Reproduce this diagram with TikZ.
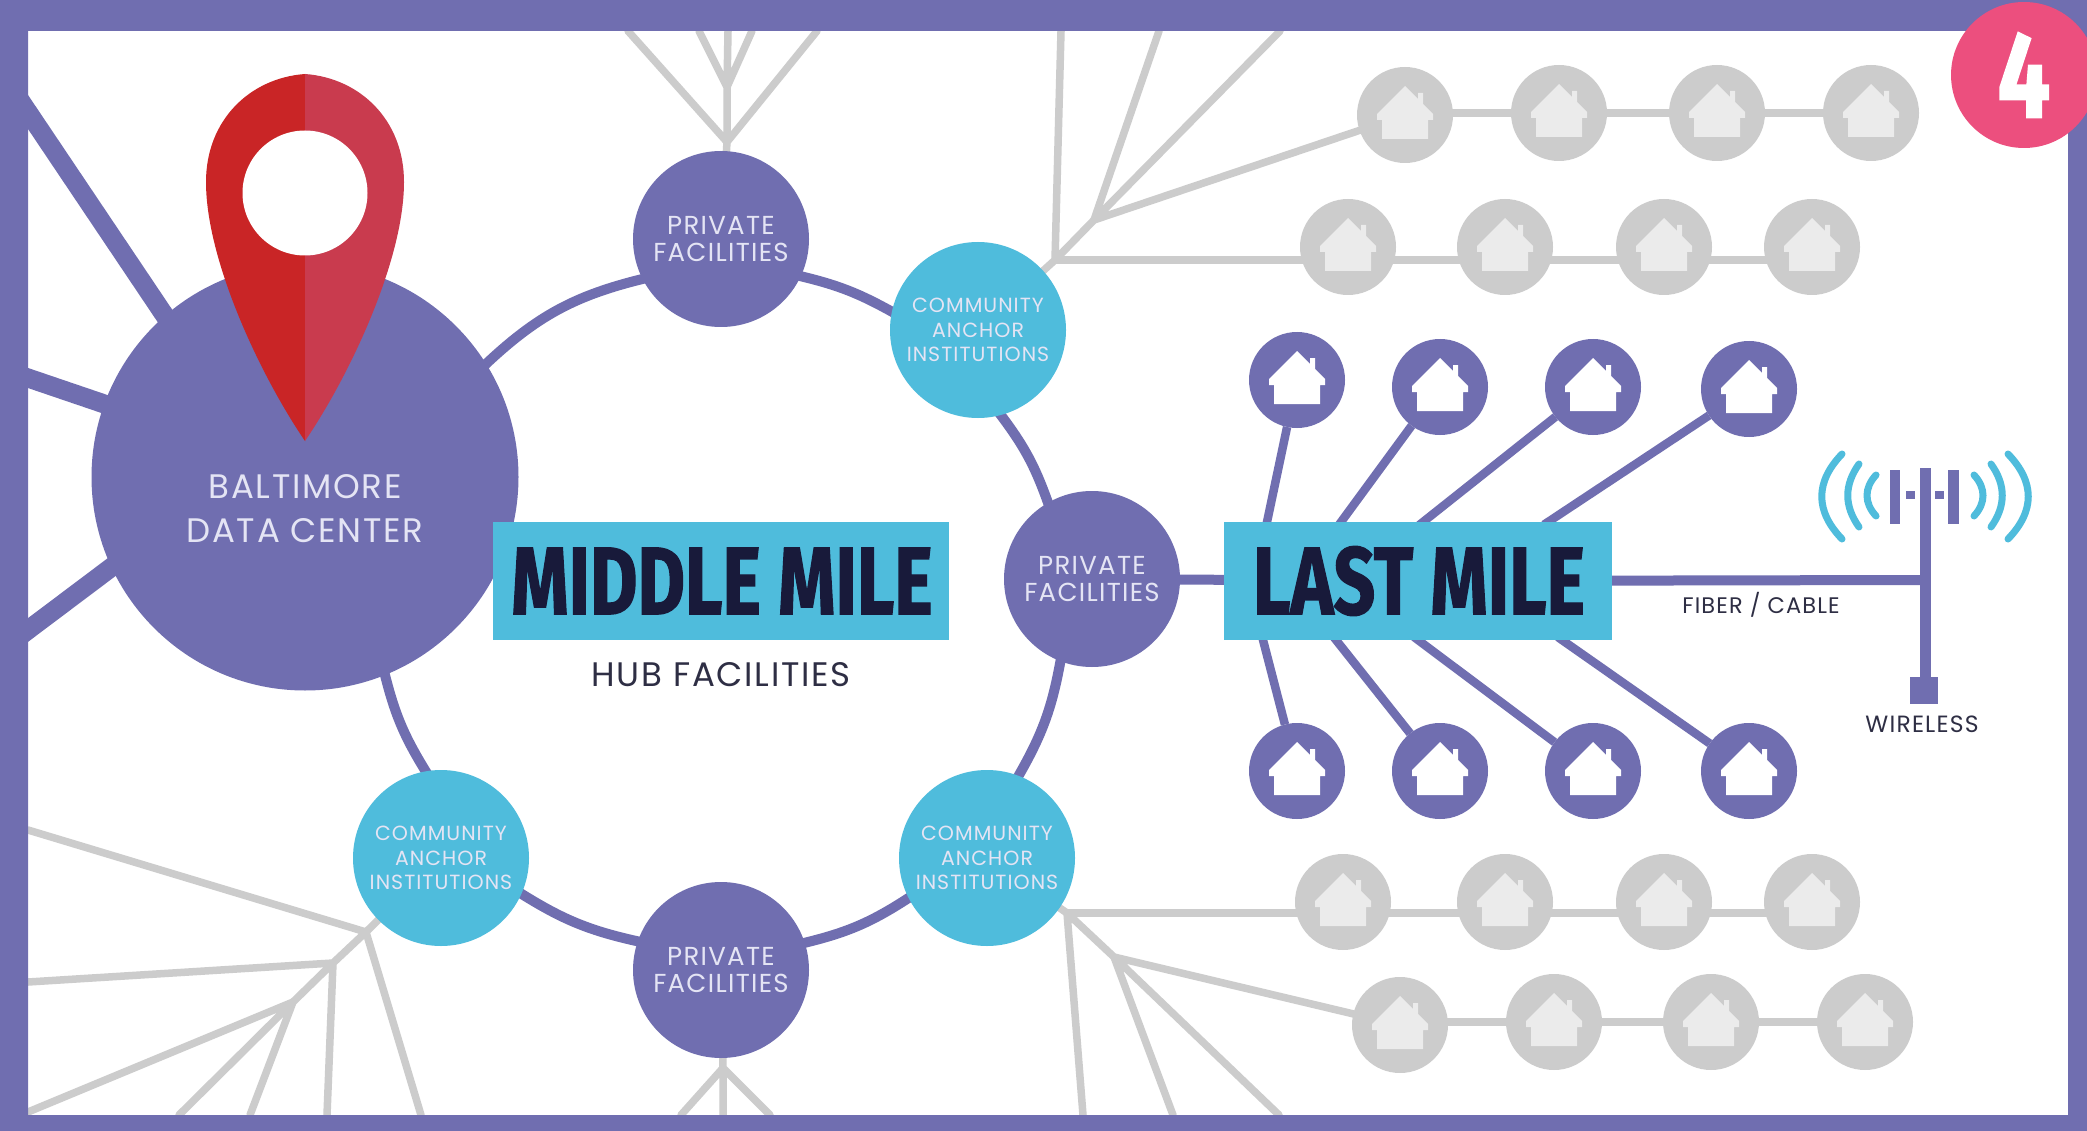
\documentclass[tikz,border=0pt]{standalone}
\usepackage{fontspec}
\setmainfont{Poppins}[LetterSpace=5]
\newfontfamily\condfont[FakeStretch=0.76,BoldFeatures={FakeBold=1.2}]{Fira Sans}
\usetikzlibrary{backgrounds,calc}
\definecolor{pur}{HTML}{706EB0}
\definecolor{cya}{HTML}{4FBCDC}
\definecolor{gry}{HTML}{CCCCCC}
\definecolor{gryhouse}{HTML}{EBEBEB}
\definecolor{pink}{HTML}{EC4F7E}
\definecolor{reddark}{HTML}{C92526}
\definecolor{redlight}{HTML}{C93B4E}
\definecolor{ink}{HTML}{181A3A}
\definecolor{txtdark}{HTML}{2E2E44}
\definecolor{lav}{HTML}{E4E4F4}
\tikzset{
  x=1pt,y=-1pt,
  every node/.style={inner sep=0pt,outer sep=0pt,align=center},
  bigdc/.style={circle,fill=pur,minimum size=427pt},
  dclabel/.style={text=lav,font=\fontsize{34}{44}\selectfont},
  privatenode/.style={circle,fill=pur,minimum size=176pt,text=lav,font=\fontsize{26}{27}\selectfont},
  communitynode/.style={circle,fill=cya,minimum size=176pt,text=lav,font=\fontsize{20.5}{24.5}\selectfont},
  titlebox/.style={fill=cya,minimum height=118pt},
  titletext/.style={text=ink,font=\condfont\bfseries\fontsize{96}{96}\selectfont},
  plainlabel/.style={text=txtdark,font=\fontsize{#1}{#1}\selectfont},
  livehouse/.style={circle,fill=pur,minimum size=96pt},
  ghosthouse/.style={circle,fill=gry,minimum size=96pt},
  ringline/.style={draw=pur,line width=10pt},
  arcline/.style={draw=pur,line width=10pt,shorten <=-4pt,shorten >=-4pt},
  feedline/.style={draw=pur,line width=19pt,shorten >=-8pt,shorten <=-16pt},
  dropline/.style={draw=pur,line width=8.5pt,shorten >=-5pt},
  greyline/.style={draw=gry,line width=7.5pt,line cap=round},
  wave/.style={draw=cya,line width=7pt,line cap=round},
  houseicon/.pic={\fill[pic actions]
    (0,-29) -- (13,-16) -- (13,-22) -- (18,-22) -- (18,-11) -- (28,-1) -- (28,5) -- (23,5)
    -- (23,24) -- (-23,24) -- (-23,5) -- (-28,5) -- (-28,-1) -- cycle;},
}
\begin{document}
\begin{tikzpicture}
\useasboundingbox (0,0) rectangle (2087,1131);
\clip (0,0) rectangle (2087,1131);
\begin{scope}[on background layer]
  \fill[white] (0,0) rectangle (2087,1131);
\end{scope}
\fill[pur,even odd rule] (0,0) rectangle (2087,1131) (28,31) rectangle (2068,1115);

% hub nodes
\node[bigdc] (dc) at (305,477) {};
\node[privatenode] (p1) at (721,239) {PRIVATE\\FACILITIES};
\node[communitynode] (c1) at (978,330) {COMMUNITY\\ANCHOR\\INSTITUTIONS};
\node[privatenode] (p2) at (1092,579) {PRIVATE\\FACILITIES};
\node[communitynode] (c2) at (987,858) {COMMUNITY\\ANCHOR\\INSTITUTIONS};
\node[privatenode] (p3) at (721,970) {PRIVATE\\FACILITIES};
\node[communitynode] (c3) at (441,858) {COMMUNITY\\ANCHOR\\INSTITUTIONS};

% title boxes
\node[titlebox,minimum width=456pt] (mm) at (721,581) {};
\node[titletext] (mmt) at (722,581) {MIDDLE MILE};
\node[titlebox,minimum width=388pt] (lm) at (1418,581) {};
\node[titletext] (lmt) at (1419,581) {LAST MILE};
\node[plainlabel=34] (hub) at (721,675) {HUB FACILITIES};
\node[plainlabel=22.5] (fib) at (1761,605) {FIBER / CABLE};
\node[plainlabel=23.5] (wir) at (1922,724) {WIRELESS};

% live houses
\foreach \n/\x/\y in {a/1297/380,b/1440/387,c/1593/387,d/1749/389,e/1297/771,f/1440/771,g/1593/771,h/1749/771}{
  \node[livehouse] (h\n) at (\x,\y) {};
  \pic[fill=white] at (\x,\y) {houseicon};
}
% ghost houses
\foreach \n/\x/\y in {11/1405/115,12/1559/113,13/1717/113,14/1871/113,
                      21/1348/247,22/1505/247,23/1664/247,24/1812/247,
                      31/1343/902,32/1505/902,33/1664/902,34/1812/902,
                      41/1400/1025,42/1554/1022,43/1711/1022,44/1865/1022}{
  \node[ghosthouse] (g\n) at (\x,\y) {};
  \pic[fill=gryhouse] at (\x,\y) {houseicon};
}

% pin
\fill[reddark] (305,74) .. controls (250,78) and (206,120) .. (206,182)
   .. controls (206,260) and (260,375) .. (305,441) -- cycle;
\fill[redlight] (305,74) .. controls (360,78) and (404,120) .. (404,182)
   .. controls (404,260) and (350,375) .. (305,441) -- cycle;
\fill[white] (305,193) circle (62.5pt);
\node[dclabel] (dct) at (305,509) {BALTIMORE\\DATA CENTER};

% badge
\node[circle,fill=pink,minimum size=146pt,text=white,font=\condfont\bfseries\fontsize{123}{123}\selectfont] (badge) at (2024,75) {4};

% named free ends
\foreach \n/\x/\y in {f1/28/112,f2/28/378,f3/28/630,
  t1/1267/522,t2/1341/522,t3/1423/522,t4/1548/522,
  b1/1263/640,b2/1336/640,b3/1418/640,b4/1562/640,
  A/1055/260,B/1094/220,A1/1061/31,B1/1159/31,B2/1280/31,
  Q/727/142,R/727/87,Q1/628/31,Q2/817/31,R1/728/31,R2/699/31,R3/752/31,
  U/1067/913,V/1114/957,U1/1083/1115,V1/1173/1115,V2/1279/1115,
  W/366/932,X/333/963,Y/293/1002,W1/28/830,X1/28/982,X2/327/1115,W2/421/1115,
  Y1/28/1112,Y2/179/1115,Y3/250/1115,
  S/723/1068,S1/681/1115,S2/723/1115,S3/770/1115,
  mast/1925/580,mtop/1925/468,mbot/1925/690}{
  \coordinate (\n) at (\x,\y);
}

\begin{scope}[on background layer]
  % grey network
  \draw[greyline] (c1) -- (A) (A) -- (A1) (A) -- (B) (B) -- (B1) (B) -- (B2) (B) -- (g11);
  \draw[greyline] (A) -- (A -| g24);
  \draw[greyline] (g12 -| g11) -- (g12) (g12) -- (g13) (g13) -- (g14);
  \draw[greyline] (p1) -- (Q) (Q) -- (Q1) (Q) -- (Q2) (Q) -- (R) (R) -- (R1) (R) -- (R2) (R) -- (R3);
  \draw[greyline] (c2) -- (U) (U) -- (U1) (U) -- (V) (V) -- (V1) (V) -- (V2) (V) -- (g41);
  \draw[greyline] (U) -- (U -| g34);
  \draw[greyline] (g42 -| g41) -- (g42) (g42) -- (g43) (g43) -- (g44);
  \draw[greyline] (c3) -- (W) (W) -- (W1) (W) -- (W2) (W) -- (X) (X) -- (X1) (X) -- (X2) (X) -- (Y)
     (Y) -- (Y1) (Y) -- (Y2) (Y) -- (Y3);
  \draw[greyline] (p3) -- (S) (S) -- (S1) (S) -- (S2) (S) -- (S3);
  % feeders
  \draw[feedline] (f1) -- (dc.131.6);
  \draw[feedline] (f2) -- (dc.160);
  \draw[feedline] (f3) -- (dc.205.7);
  % ring
  \draw[arcline] (dc.32.3) to[bend left=15] (p1.207);
  \draw[arcline] (p1.335) to[bend left=8] (c1.168);
  \draw[arcline] (c1.285) to[bend left=9] (p2.120.5);
  \draw[arcline] (p2.249) to[bend left=10] (c2.69);
  \draw[arcline] (c2.207) to[bend left=10] (p3.18);
  \draw[arcline] (p3.161) to[bend left=10] (c3.336);
  \draw[arcline] (c3.100) to[bend left=9] (dc.292.6);
  \draw[ringline] (p2) -- (lm);
  % drops
  \draw[dropline] (ha) -- (t1);
  \draw[dropline] (hb) -- (t2);
  \draw[dropline] (hc) -- (t3);
  \draw[dropline] (hd) -- (t4);
  \draw[dropline] (he) -- (b1);
  \draw[dropline] (hf) -- (b2);
  \draw[dropline] (hg) -- (b3);
  \draw[dropline] (hh) -- (b4);
  % antenna
  \draw[draw=pur,line width=10pt] (lm) -- (mast);
  \draw[draw=pur,line width=11pt] (mtop) -- (mbot);
\end{scope}
\fill[pur] (1910,677) rectangle (1938,704);
\fill[pur] (1890,470) rectangle (1900,524);
\fill[pur] (1948,470) rectangle (1959,524);
\fill[pur] (1906,491) rectangle (1915,499);
\fill[pur] (1935,491) rectangle (1944,499);
\draw[wave] (1842,454) .. controls (1815,482) and (1815,511) .. (1842,539);
\draw[wave] (1859,464) .. controls (1844,485) and (1844,506) .. (1859,527);
\draw[wave] (1876,475) .. controls (1864,488) and (1864,503) .. (1876,516);
\draw[wave] (2008,454) .. controls (2035,482) and (2035,511) .. (2008,539);
\draw[wave] (1991,464) .. controls (2006,485) and (2006,506) .. (1991,527);
\draw[wave] (1974,475) .. controls (1986,488) and (1986,503) .. (1974,516);
\end{tikzpicture}
\end{document}
